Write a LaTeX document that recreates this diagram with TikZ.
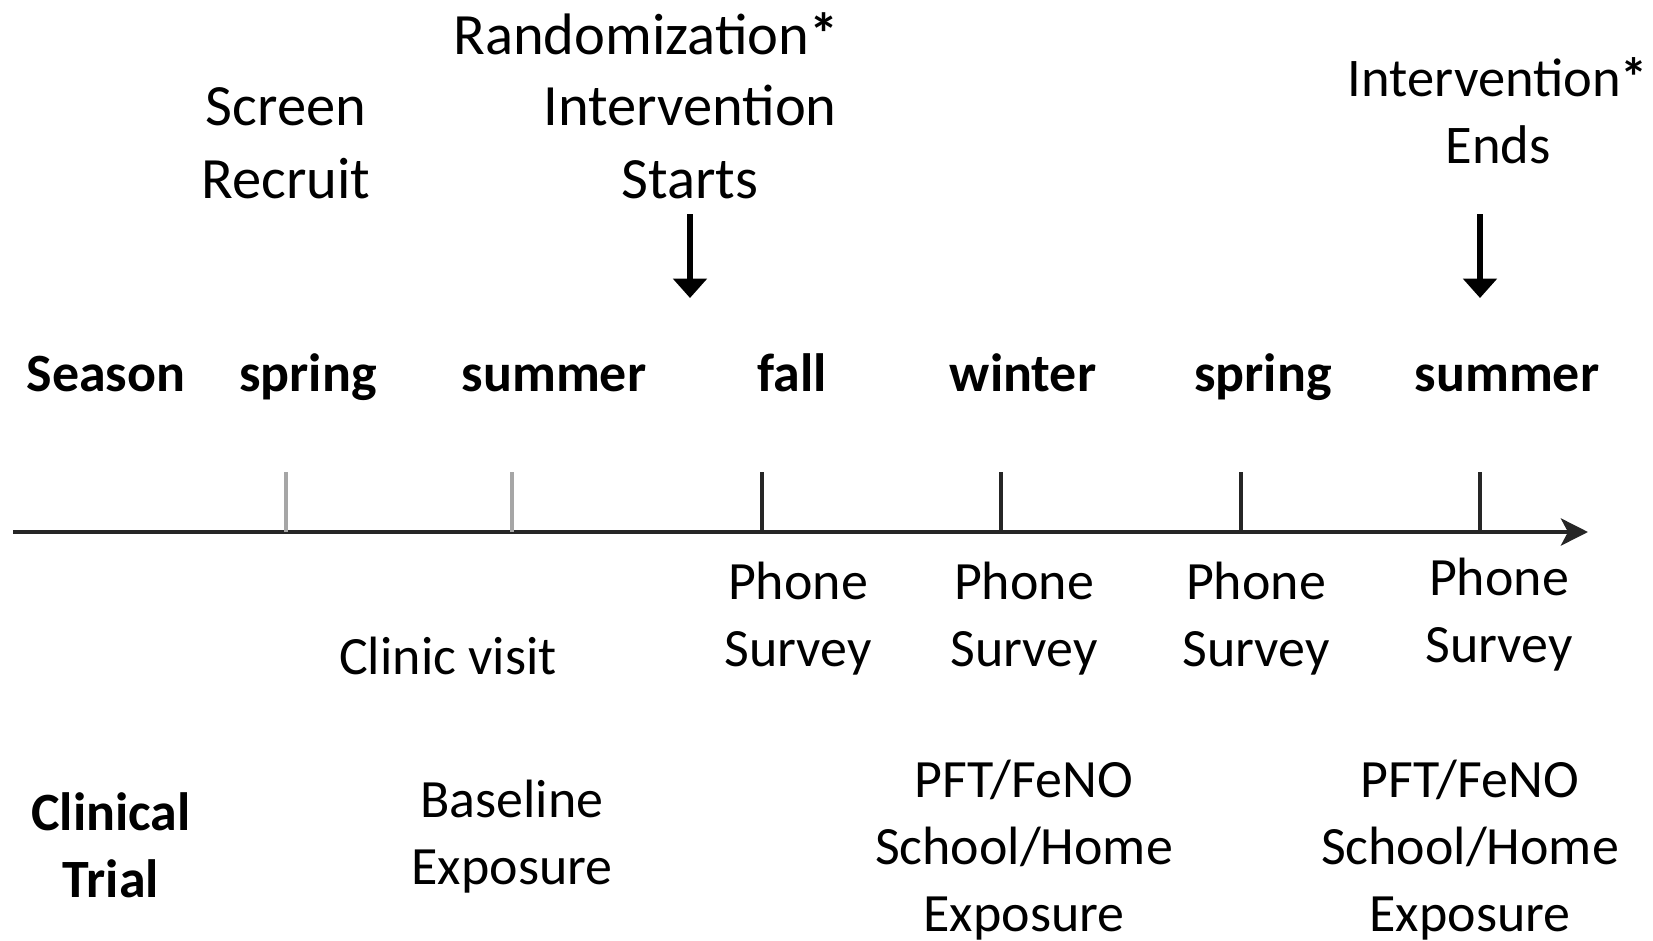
\documentclass[tikz,border=0pt]{standalone}
\usepackage{fontspec}
\setmainfont{Carlito}
\usetikzlibrary{arrows.meta, positioning}

\definecolor{axisdark}{HTML}{262626}
\definecolor{tickgray}{HTML}{A6A6A6}

\begin{document}
\begin{tikzpicture}[
  x=0.02cm, y=-0.02cm,
  big/.style    = {font=\fontsize{33.3}{41}\selectfont, align=center, anchor=base, inner sep=0pt},
  txt/.style    = {font=\fontsize{30.7}{38.1}\selectfont, align=center, anchor=base, inner sep=0pt},
  season/.style = {font=\fontsize{30.7}{38.1}\selectfont\bfseries, align=center, anchor=base, inner sep=0pt},
  tickmark/.style = {line width=2.4pt, draw=axisdark},
  oldtick/.style  = {tickmark, draw=tickgray},
  marker/.style   = {line width=3pt, -{Triangle[width=18.8pt, length=11pt]}},
]
  \useasboundingbox (0,0) rectangle (1653,940);

  % Time axis
  \coordinate (axstart) at (13,532);
  \coordinate (axend)   at (1588,532);
  \draw[line width=2.6pt, draw=axisdark, -{Stealth[length=15.4pt, width=15.4pt, inset=4pt]}]
      (axstart) -- (axend);

  % Tick marks
  \foreach \name/\x in {tA/286, tB/512, tC/762, tD/1001, tE/1241, tF/1480} {
    \coordinate (\name-bot) at (\x,532);
    \coordinate (\name-top) at (\x,472);
  }
  \draw[oldtick]  (tA-bot) -- (tA-top);
  \draw[oldtick]  (tB-bot) -- (tB-top);
  \draw[tickmark] (tC-bot) -- (tC-top);
  \draw[tickmark] (tD-bot) -- (tD-top);
  \draw[tickmark] (tE-bot) -- (tE-top);
  \draw[tickmark] (tF-bot) -- (tF-top);

  % Milestones above the axis (base = last line)
  \node[big] (screen) at (286,198)  {Screen\\Recruit};
  \node[big] (rand)   at (646,54)   {Randomization{\bfseries*}};
  \node[big] (start)  at (690,198)  {Intervention\\Starts};
  \node[big, font=\fontsize{31}{38}\selectfont] (ends) at (1498,163)
      {Intervention{\bfseries*}\\Ends};

  \coordinate (startarr) at (690,214);
  \coordinate (startend) at (690,298);
  \coordinate (endsarr)  at (1480,214);
  \coordinate (endsend)  at (1480,298);
  \draw[marker] (startarr) -- (startend);
  \draw[marker] (endsarr)  -- (endsend);

  % Season row
  \node[season] (seasonlbl) at (106,391)  {Season};
  \node[season] (spring1)   at (308,391)  {spring};
  \node[season] (summer1)   at (554,391)  {summer};
  \node[season] (fall)      at (792,391)  {fall};
  \node[season] (winter)    at (1023,391) {winter};
  \node[season] (spring2)   at (1263,391) {spring};
  \node[season] (summer2)   at (1507,391) {summer};

  % Surveys and visits below the axis
  \node[txt] (phoneA) at (798,666)  {Phone\\Survey};
  \node[txt] (phoneB) at (1024,666) {Phone\\Survey};
  \node[txt] (phoneC) at (1256,666) {Phone\\Survey};
  \node[txt] (phoneD) at (1499,662) {Phone\\Survey};
  \node[txt] (clinic) at (448,674)  {Clinic visit};

  % Clinical trial row
  \node[season] (trial)    at (111,897)  {Clinical\\Trial};
  \node[txt]    (baseexp)  at (512,884)  {Baseline\\Exposure};
  \node[txt]    (pftA)     at (1024,931) {PFT/FeNO\\School/Home\\Exposure};
  \node[txt]    (pftB)     at (1470,931) {PFT/FeNO\\School/Home\\Exposure};
\end{tikzpicture}
\end{document}
